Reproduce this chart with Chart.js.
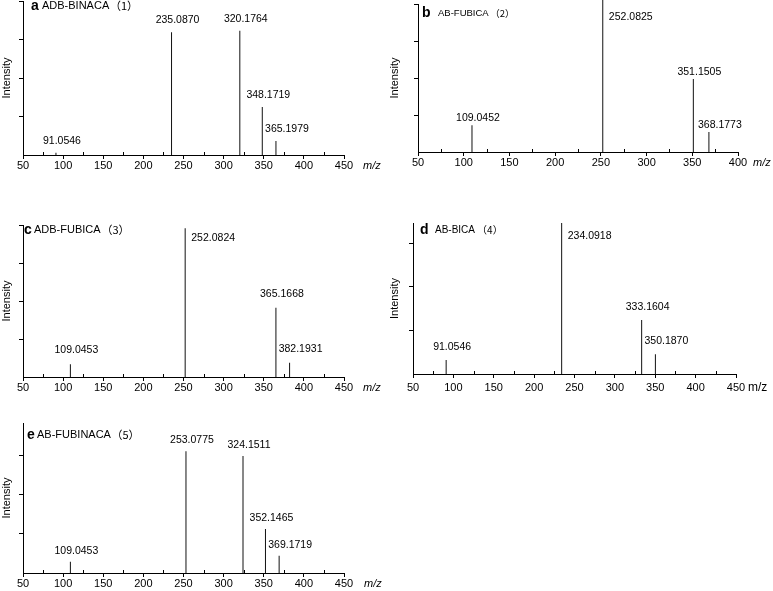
<!DOCTYPE html>
<html>
<head>
<meta charset="utf-8">
<script src="https://cdn.jsdelivr.net/npm/chart.js@4.4.1/dist/chart.umd.min.js"></script>
<style>
html, body { margin: 0; padding: 0; background: #fff; }
body { width: 773px; height: 591px; position: relative; overflow: hidden; }
.panel { position: absolute; }
</style>
</head>
<body>
<script>
// peak m/z labels (kept as text so trailing zeros stay) and relative intensities (%)
var mzA = ['91.0546', '235.0870', '320.1764', '348.1719', '365.1979'];
var intA = [1.5, 79.7, 80.7, 31.2, 9.1];

var mzB = ['109.0452', '252.0825', '351.1505', '368.1773'];
var intB = [18, 103, 49.3, 13.5];

var mzC = ['109.0453', '252.0824', '365.1668', '382.1931'];
var intC = [8.4, 97.8, 45.6, 9.4];

var mzD = ['91.0546', '234.0918', '333.1604', '350.1870'];
var intD = [8, 86.5, 30.9, 11.3];

var mzE = ['109.0453', '253.0775', '324.1511', '352.1465', '369.1719'];
var intE = [7.2, 78, 74.9, 28.2, 11.1];

var FONT = "'Liberation Sans', Arial, 'Noto Sans CJK SC', sans-serif";
var X_H = 22;

Chart.defaults.font.family = FONT;
Chart.defaults.color = '#000';

var panels = [
	{box: [0, 0, 390, 185], area: [23, 344, 1, 155], xMax: 450, yMax: 100, mz: mzA, inten: intA,
		letter: 'a', name: 'ADB-BINACA', num: '（1）', head: [8, 19, 5], nameSize: 11, lift: 12, tickPad: 0, mzGap: 19},
	{box: [388, 0, 385, 185], area: [418, 738, 4, 152], xMax: 400, yMax: 100, mz: mzB, inten: intB,
		letter: 'b', name: 'AB-FUBICA', num: '（2）', head: [4, 20, 9], nameSize: 9.5, lift: 7, tickPad: 0, mzGap: 15},
	{box: [0, 215, 390, 185], area: [23, 344, 225, 377], xMax: 450, yMax: 100, mz: mzC, inten: intC,
		letter: 'c', name: 'ADB-FUBICA', num: '（3）', head: [1, 11, 5], nameSize: 11, lift: 14, tickPad: 0, mzGap: 19},
	{box: [388, 215, 385, 185], area: [413, 736, 223, 374], xMax: 450, yMax: 86.5, mz: mzD, inten: intD,
		letter: 'd', name: 'AB-BICA', num: '（4）', head: [7, 22, 7], nameSize: 10, lift: 13, tickPad: 3, mzGap: 12, mzFont: '12px ' + FONT},
	{box: [0, 410, 390, 181], area: [23, 344, 423, 573], xMax: 450, yMax: 96, mz: mzE, inten: intE,
		letter: 'e', name: 'AB-FUBINACA', num: '（5）', head: [4, 14, 12], nameSize: 11, lift: 11, tickPad: 0, mzGap: 20}
];

var spectrumPlugin = {
	id: 'spectrum',
	afterDatasetsDraw: function(chart) {
		var p = chart.options.plugins.spectrum;
		var ctx = chart.ctx;
		var area = chart.chartArea;
		var xs = chart.scales.x;
		var ys = chart.scales.y;
		var meta = chart.getDatasetMeta(0);
		ctx.save();

		// minor x ticks point into the plot
		ctx.strokeStyle = '#000';
		ctx.lineWidth = 1;
		xs.ticks.forEach(function(t) {
			if (t.value % 50 !== 0) {
				var px = Math.round(xs.getPixelForValue(t.value)) + 0.5;
				ctx.beginPath();
				ctx.moveTo(px, area.bottom);
				ctx.lineTo(px, area.bottom - 3);
				ctx.stroke();
			}
		});

		// peak labels
		ctx.fillStyle = '#000';
		ctx.font = '10.5px ' + FONT;
		ctx.textAlign = 'center';
		ctx.textBaseline = 'middle';
		meta.data.forEach(function(bar, i) {
			var v = p.inten[i];
			var tx, ty;
			if (v >= 0.95 * ys.max) {
				tx = bar.x + 28;
				ty = area.top + 13;
			} else {
				var close = i > 0 && parseFloat(p.mz[i]) - parseFloat(p.mz[i - 1]) < 20;
				tx = bar.x + (close ? 11 : 6);
				ty = bar.y - p.lift;
			}
			ctx.fillText(p.mz[i], tx, ty);
		});

		// panel heading
		ctx.textAlign = 'left';
		var hy = area.top + p.head[2];
		ctx.font = 'bold 14px ' + FONT;
		ctx.fillText(p.letter, area.left + p.head[0], hy);
		ctx.font = p.nameSize + 'px ' + FONT;
		var nx = area.left + p.head[1];
		ctx.fillText(p.name, nx, hy);
		ctx.font = p.nameSize + "px 'Noto Sans CJK SC', " + FONT;
		ctx.fillText(p.num, nx + ctx.measureText(p.name).width + 4, hy);

		// m/z axis label
		ctx.font = p.mzFont || 'italic 11px ' + FONT;
		ctx.fillText('m/z', area.right + p.mzGap, area.bottom + 4 + p.tickPad + 7);
		ctx.restore();
	}
};

function initPanel(p) {
	var div = document.createElement('div');
	div.className = 'panel';
	div.style.left = p.box[0] + 'px';
	div.style.top = p.box[1] + 'px';
	div.style.width = p.box[2] + 'px';
	div.style.height = p.box[3] + 'px';
	var canvas = document.createElement('canvas');
	canvas.width = p.box[2];
	canvas.height = p.box[3];
	div.appendChild(canvas);
	document.body.appendChild(div);

	var yWidth = p.area[0] - p.box[0];
	new Chart(canvas.getContext('2d'), {
		type: 'bar',
		data: {
			datasets: [{
				data: p.mz.map(function(m, i) { return {x: parseFloat(m), y: p.inten[i]}; }),
				backgroundColor: '#111',
				borderWidth: 0,
				barThickness: 1,
				inflateAmount: 0,
				clip: false
			}]
		},
		plugins: [spectrumPlugin],
		options: {
			responsive: false,
			animation: false,
			layout: {
				padding: {
					left: 0,
					top: p.area[2] - p.box[1],
					right: p.box[0] + p.box[2] - p.area[1],
					bottom: p.box[1] + p.box[3] - p.area[3] - X_H
				}
			},
			plugins: {
				legend: {display: false},
				tooltip: {enabled: false},
				spectrum: p
			},
			scales: {
				x: {
					type: 'linear',
					min: 50,
					max: p.xMax,
					offset: false,
					afterFit: function(scale) { scale.height = X_H; },
					border: {display: true, color: '#000', width: 1},
					grid: {
						offset: false,
						drawOnChartArea: false,
						drawTicks: true,
						tickLength: 4,
						tickColor: function(c) { return c.tick && c.tick.value % 50 === 0 ? '#000' : 'rgba(0,0,0,0)'; }
					},
					ticks: {
						stepSize: 25,
						autoSkip: false,
						maxRotation: 0,
						padding: p.tickPad,
						color: '#000',
						font: {size: 11},
						callback: function(v) { return v % 50 === 0 ? String(v) : ''; }
					}
				},
				y: {
					min: 0,
					max: p.yMax,
					afterFit: function(scale) { scale.width = yWidth; },
					afterBuildTicks: function(scale) {
						scale.ticks = scale.ticks.filter(function(t) { return t.value > 0 && t.value % 25 === 0; });
					},
					border: {display: true, color: '#000', width: 1},
					grid: {drawOnChartArea: false, drawTicks: true, tickLength: 4, tickColor: '#000'},
					ticks: {display: false, stepSize: 25},
					title: {display: true, text: 'Intensity', color: '#000', font: {size: 11}, padding: 0}
				}
			}
		}
	});
}

panels.forEach(initPanel);
</script>
</body>
</html>
